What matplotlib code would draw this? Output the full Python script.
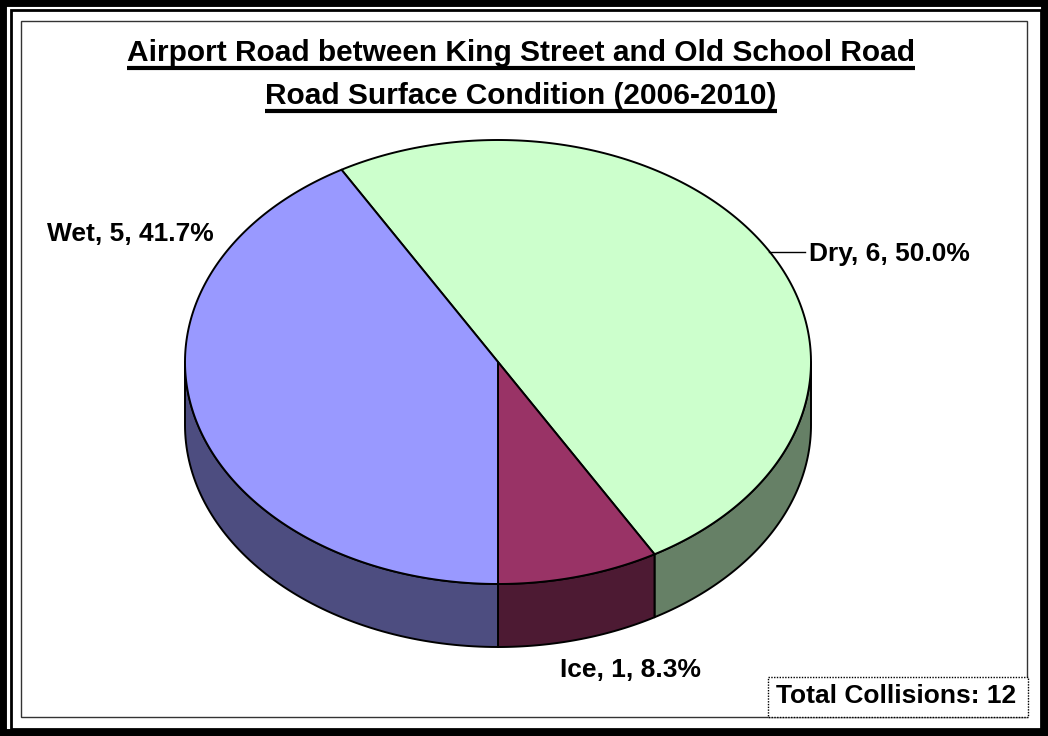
import matplotlib
matplotlib.use('Agg')
import matplotlib.pyplot as plt
from matplotlib.patches import Polygon, Rectangle
import numpy as np

plt.rcParams['font.family'] = ['Liberation Sans', 'DejaVu Sans']

# 数据
categories = ['Dry', 'Ice', 'Wet']
counts = [6, 1, 5]
top_colors = ['#CCFFCC', '#993366', '#9999FF']
side_colors = ['#668066', '#4D1A33', '#4D4D80']
title_lines = ['Airport Road between King Street and Old School Road',
               'Road Surface Condition (2006-2010)']
total_text = 'Total Collisions: 12'

W, H = 1048, 736
fig = plt.figure(figsize=(W / 100, H / 100), dpi=100)
ax = fig.add_axes([0, 0, 1, 1])
ax.set_xlim(0, W)
ax.set_ylim(H, 0)
ax.axis('off')

# 边框
ax.add_patch(Rectangle((0, 0), W, H, fill=False, ec='black', lw=10))
ax.add_patch(Rectangle((11, 10), 1030, 719, fill=False, ec='black', lw=2))
ax.add_patch(Rectangle((21, 21), 1006, 696, fill=False, ec='#333333', lw=1))

# 3D饼图几何
cx, cy, rx, ry, depth = 498, 362, 313, 222, 63
start = 120.0  # 第一块起始角(数学角度), 顺时针
total = sum(counts)


def pt(t, dy=0):
    t = np.radians(t)
    return cx + rx * np.cos(t), cy - ry * np.sin(t) + dy


spans = []
a = start
for c in counts:
    b = a - 360.0 * c / total
    spans.append((b, a))
    a = b

# 侧面 (只画前半部分)
for (lo, hi), col in zip(spans, side_colors):
    for k in (-1, 0, 1):
        s, e = max(lo, -180 + 360 * k), min(hi, 360 * k)
        if e <= s:
            continue
        ts = np.linspace(s, e, 80)
        top = [pt(t) for t in ts]
        bot = [pt(t, depth) for t in ts[::-1]]
        ax.add_patch(Polygon(top + bot, closed=True, fc=col, ec='black',
                             lw=1.4, joinstyle='round'))

# 顶面
for (lo, hi), col in zip(spans, top_colors):
    ts = np.linspace(lo, hi, 200)
    verts = [(cx, cy)] + [pt(t) for t in ts]
    ax.add_patch(Polygon(verts, closed=True, fc=col, ec='black', lw=1.4,
                         joinstyle='round'))

# 数据标签
pcts = [100.0 * c / total for c in counts]
labels = ['%s, %d, %.1f%%' % (n, c, p) for n, c, p in zip(categories, counts, pcts)]
label_pos = [(809, 254, 'left'), (631, 670, 'center'), (130, 234, 'center')]
for lab, (x, y, ha) in zip(labels, label_pos):
    ax.text(x, y, lab, fontsize=19, fontweight='bold', ha=ha, va='center')
# Dry的引线
mid = (spans[0][0] + spans[0][1]) / 2
x0, y0 = pt(mid)
ax.plot([x0, 805], [y0 + 1, y0 + 1], color='black', lw=1)

# 标题 + 下划线
fig.canvas.draw()
r = fig.canvas.get_renderer()
for i, (line, y) in enumerate(zip(title_lines, [53, 96])):
    t = ax.text(521, y, line, fontsize=21.5, fontweight='bold', ha='center', va='center')
    bb = t.get_window_extent(renderer=r)
    (xa, _), (xb, _) = ax.transData.inverted().transform([(bb.x0, bb.y0), (bb.x1, bb.y0)])
    ax.plot([xa, xb], [y + 15, y + 15], color='black', lw=3, solid_capstyle='butt')

# 总数框
ax.add_patch(Rectangle((768, 677), 260, 40, fc='white', ec='black', lw=1,
                       ls=(0, (1, 1))))
ax.text(896, 696, total_text, fontsize=19, fontweight='bold', ha='center', va='center')

plt.savefig('out.png', dpi=100)
